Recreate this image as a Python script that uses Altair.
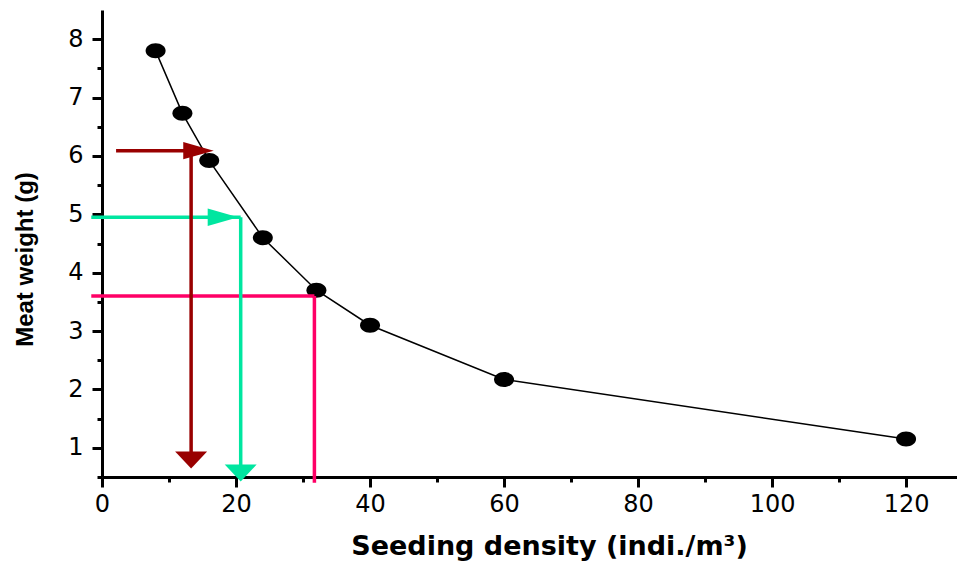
import altair as alt
import pandas as pd

# Meat weight against seeding density
density = [8, 12, 16, 24, 32, 40, 60, 120]
meat_weight = [7.8, 6.73, 5.92, 4.6, 3.7, 3.1, 2.17, 1.15]

# Axis ticks
x_major = [0, 20, 40, 60, 80, 100, 120]
x_minor = [10, 30, 50, 70, 90, 110]
y_major = [1, 2, 3, 4, 5, 6, 7, 8]
y_minor = [0.5, 1.5, 2.5, 3.5, 4.5, 5.5, 6.5, 7.5]

# Reading guides: weight -> density
guide_names = ["6.1 g", "5.0 g", "3.6 g"]
guide_colors = ["#990000", "#00E6A0", "#FF0066"]
h_from = [2.1, -1.6, -1.6]
h_to = [13.3, 20.7, 31.7]
h_weight = [6.09, 4.95, 3.60]
v_density = [13.3, 20.7, 31.7]
v_bottom = [0.85, 0.6, 0.4]

# Arrow heads (centre positions)
right_head_names = ["6.1 g", "5.0 g"]
right_head_x = [14.4, 18.05]
right_head_y = [6.09, 4.95]
down_head_names = ["6.1 g", "5.0 g"]
down_head_x = [13.3, 20.7]
down_head_y = [0.79, 0.57]

points = pd.DataFrame({"density": density, "weight": meat_weight})
horiz = pd.DataFrame({"guide": guide_names, "x": h_from, "x2": h_to,
                      "y": h_weight, "y2": h_weight})
vert = pd.DataFrame({"guide": guide_names, "x": v_density, "x2": v_density,
                     "y": h_weight, "y2": v_bottom})
right_heads = pd.DataFrame({"guide": right_head_names, "x": right_head_x, "y": right_head_y})
down_heads = pd.DataFrame({"guide": down_head_names, "x": down_head_x, "y": down_head_y})

x_scale = alt.Scale(domain=[0, 127.6], nice=False, zero=False)
y_scale = alt.Scale(domain=[0.5, 8.5], nice=False, zero=False)
color = alt.Color("guide:N", scale=alt.Scale(domain=guide_names, range=guide_colors), legend=None)

x_axis = alt.Axis(values=x_major, title="Seeding density (indi./m³)", orient="bottom",
                  titleFont="DejaVu Sans", titleFontSize=27, titleFontWeight="bold",
                  titleX=447, titleY=77, titleAlign="center", titleBaseline="alphabetic",
                  labelFont="DejaVu Sans", labelFontSize=24, labelPadding=5,
                  labelFlush=False)
y_axis = alt.Axis(values=y_major, title="Meat weight (g)", orient="left",
                  titleFont="Liberation Sans", titleFontSize=24, titleFontWeight="bold",
                  titleAngle=270, titleX=-77, titleY=249, titleAlign="center",
                  titleBaseline="middle",
                  labelFont="DejaVu Sans", labelFontSize=24, labelPadding=9,
                  labelFlush=False)


def px(field, axis=None):
    return alt.X(field, scale=x_scale, axis=axis)


def py(field, axis=None):
    return alt.Y(field, scale=y_scale, axis=axis)


line = alt.Chart(points).mark_line(color="black", strokeWidth=1.5).encode(
    x=px("density:Q", x_axis),
    y=py("weight:Q", y_axis),
)

ellipse = "M-1,0 A1,0.75 0 1,0 1,0 A1,0.75 0 1,0 -1,0 Z"
markers = alt.Chart(points).mark_point(filled=True, color="black", opacity=1,
                                        shape=ellipse, size=400).encode(
    x=px("density:Q"),
    y=py("weight:Q"),
)

minor_ticks = alt.Chart(points).mark_point(opacity=0).encode(
    x=px("density:Q", alt.Axis(values=x_minor, orient="bottom", labels=False,
                               domain=False, tickSize=5, title=None)),
    y=py("weight:Q", alt.Axis(values=y_minor, orient="left", labels=False,
                              domain=False, tickSize=5, title=None)),
)

h_lines = alt.Chart(horiz).mark_rule(strokeWidth=3.5).encode(
    x=px("x:Q"), x2="x2:Q", y=py("y:Q"), y2="y2:Q", color=color,
)
v_lines = alt.Chart(vert).mark_rule(strokeWidth=3.5).encode(
    x=px("x:Q"), x2="x2:Q", y=py("y:Q"), y2="y2:Q", color=color,
)

right_tri = "M-1,-0.57 L1,0 L-1,0.57 Z"
down_tri = "M-1,-0.53 L1,-0.53 L0,0.53 Z"
r_heads = alt.Chart(right_heads).mark_point(filled=True, opacity=1, shape=right_tri,
                                            size=930).encode(
    x=px("x:Q"), y=py("y:Q"), color=color, fill=color,
)
d_heads = alt.Chart(down_heads).mark_point(filled=True, opacity=1, shape=down_tri,
                                           size=1024).encode(
    x=px("x:Q"), y=py("y:Q"), color=color, fill=color,
)

chart = alt.layer(
    minor_ticks, line, markers, h_lines, v_lines, r_heads, d_heads
).resolve_axis(
    x="independent", y="independent"
).properties(
    width=855, height=467,
    autosize=alt.AutoSizeParams(type="none"),
    padding={"left": 102, "top": 10, "right": 0, "bottom": 85},
).configure_view(
    stroke=None
).configure_axis(
    grid=False, domainColor="black", domainWidth=3, tickColor="black",
    tickWidth=3, tickSize=10, labelColor="black", titleColor="black",
)

chart.save("out.html", embed_options={"renderer": "svg", "actions": False})
